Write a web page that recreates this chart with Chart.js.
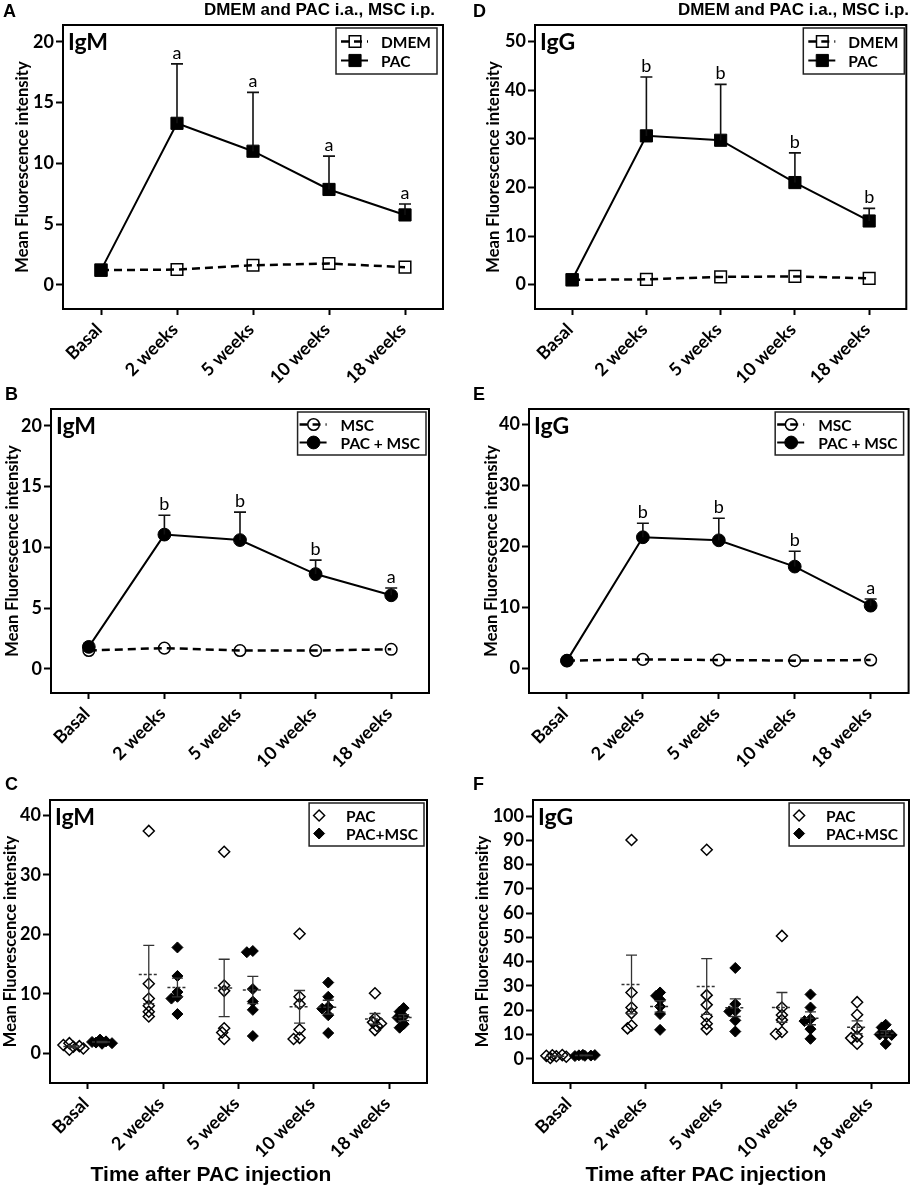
<!DOCTYPE html>
<html>
<head>
<meta charset="utf-8">
<script src="https://cdn.jsdelivr.net/npm/chart.js@4.4.1/dist/chart.umd.min.js"></script>
<style>
  body { margin: 0; background: #fff; }
  #page { position: relative; width: 916px; height: 1187px; overflow: hidden; background: #fff; }
  canvas { position: absolute; }
  .lbl { position: absolute; font-family: "Liberation Sans", Arial, sans-serif; font-weight: bold; color: #000; white-space: nowrap; line-height: 1; }
</style>
</head>
<body>
<div id="page">
  <canvas id="chartA" width="458" height="395" style="left:0;top:0"></canvas>
  <canvas id="chartD" width="458" height="395" style="left:458px;top:0"></canvas>
  <canvas id="chartB" width="458" height="400" style="left:0;top:380px"></canvas>
  <canvas id="chartE" width="458" height="400" style="left:458px;top:380px"></canvas>
  <canvas id="chartC" width="458" height="427" style="left:0;top:760px"></canvas>
  <canvas id="chartF" width="458" height="427" style="left:458px;top:760px"></canvas>

  <div class="lbl" style="left:3px;top:2px;font-size:18px">A</div>
  <div class="lbl" style="left:473px;top:2px;font-size:18px">D</div>
  <div class="lbl" style="left:5px;top:385px;font-size:18px">B</div>
  <div class="lbl" style="left:473px;top:385px;font-size:18px">E</div>
  <div class="lbl" style="left:5px;top:775px;font-size:18px">C</div>
  <div class="lbl" style="left:473px;top:775px;font-size:18px">F</div>
  <div class="lbl" style="right:481px;top:1px;font-size:17px">DMEM and PAC i.a., MSC i.p.</div>
  <div class="lbl" style="right:7px;top:1px;font-size:17px">DMEM and PAC i.a., MSC i.p.</div>
  <div class="lbl" style="left:211px;top:1163px;font-size:21px;transform:translateX(-50%)">Time after PAC injection</div>
  <div class="lbl" style="left:706px;top:1163px;font-size:21px;transform:translateX(-50%)">Time after PAC injection</div>
</div>
<script>
const timeLabels = ['Basal', '2 weeks', '5 weeks', '10 weeks', '18 weeks'];

// y tick values per panel
const ticksIgmLine = [0, 5, 10, 15, 20];
const ticksIggPac = [0, 10, 20, 30, 40, 50];
const ticksIggMsc = [0, 10, 20, 30, 40];
const ticksIgmDots = [0, 10, 20, 30, 40];
const ticksIggDots = [0, 10, 20, 30, 40, 50, 60, 70, 80, 90, 100];

// A - IgM, DMEM vs PAC (mean, upper SEM)
const igmDmem = [1.2, 1.25, 1.6, 1.75, 1.45];
const igmPac = [1.2, 13.3, 11.0, 7.85, 5.75];
const igmPacUpper = [null, 18.2, 15.85, 10.6, 6.65];
const igmPacLetters = ['', 'a', 'a', 'a', 'a'];

// D - IgG, DMEM vs PAC
const iggDmem = [1.0, 1.1, 1.6, 1.7, 1.3];
const iggPac = [1.0, 30.6, 29.7, 21.0, 13.1];
const iggPacUpper = [null, 42.7, 41.2, 27.1, 15.7];
const iggPacLetters = ['', 'b', 'b', 'b', 'b'];

// B - IgM, MSC vs PAC + MSC
const igmMsc = [1.5, 1.7, 1.5, 1.5, 1.6];
const igmPacMsc = [1.8, 11.05, 10.6, 7.8, 6.05];
const igmPacMscUpper = [null, 12.65, 12.9, 8.95, 6.65];
const igmPacMscLetters = ['', 'b', 'b', 'b', 'a'];

// E - IgG, MSC vs PAC + MSC
const iggMsc = [1.3, 1.5, 1.4, 1.3, 1.4];
const iggPacMsc = [1.3, 21.5, 21.0, 16.7, 10.3];
const iggPacMscUpper = [null, 23.8, 24.6, 19.2, 11.4];
const iggPacMscLetters = ['', 'b', 'b', 'b', 'a'];

// C - IgM individual animals
const igmPacPoints = [
  [1.1, 0.6, 1.7, 1.2, 1.4, 0.8],
  [37.4, 11.7, 9.2, 8.0, 7.0, 6.2],
  [33.9, 11.4, 10.5, 4.2, 3.5, 2.4],
  [20.1, 9.5, 8.3, 4.0, 2.6, 2.4],
  [10.1, 5.9, 5.2, 4.6, 3.9, 5.0]
];
const igmPacMscPoints = [
  [1.6, 1.8, 2.0, 2.3, 1.7, 1.9],
  [17.8, 13.0, 10.3, 9.5, 9.2, 6.6],
  [17.2, 17.0, 10.8, 8.7, 7.3, 2.9],
  [11.9, 9.5, 7.8, 7.5, 6.4, 3.4],
  [7.6, 7.0, 6.2, 4.9, 4.3, 6.0]
];

// F - IgG individual animals
const iggPacPoints = [
  [1.0, 0.3, 1.5, 0.8, 1.2, 1.4],
  [90.1, 27.3, 21.1, 18.8, 13.7, 12.5],
  [86.1, 26.2, 22.2, 17.4, 14.4, 12.2],
  [50.6, 21.1, 18.0, 16.0, 11.0, 10.2],
  [23.3, 18.1, 12.5, 9.2, 8.5, 6.2]
];
const iggPacMscPoints = [
  [1.2, 1.4, 1.3, 1.5, 1.1, 1.6],
  [27.3, 25.9, 24.3, 21.5, 18.4, 11.9],
  [37.4, 22.5, 19.8, 19.5, 15.8, 11.2],
  [26.5, 21.1, 16.3, 15.5, 12.2, 8.2],
  [14.0, 12.9, 10.0, 10.0, 9.8, 6.1]
];

const FONT = 'Lato, "Open Sans", sans-serif';
const PX_PER_CAT = 75.5;

// box around the plot area
const frame = {
  id: 'frame',
  beforeDatasetsDraw(chart) {
    const {ctx, chartArea: a} = chart;
    ctx.save();
    ctx.strokeStyle = '#000';
    ctx.lineWidth = 2;
    ctx.strokeRect(a.left, a.top, a.right - a.left, a.bottom - a.top);
    ctx.restore();
  }
};

// "IgM" / "IgG" tag in the top-left corner
const panelTag = {
  id: 'panelTag',
  afterDatasetsDraw(chart, args, opts) {
    const {ctx, chartArea: a} = chart;
    ctx.save();
    ctx.font = 'bold 23px ' + FONT;
    ctx.fillStyle = '#000';
    ctx.textBaseline = 'alphabetic';
    ctx.fillText(opts.text, a.left + 5, a.top + 25);
    ctx.restore();
  }
};

// upper SEM bars and significance letters for the line panels
const meanErrors = {
  id: 'meanErrors',
  afterDatasetsDraw(chart) {
    const ctx = chart.ctx, ys = chart.scales.y;
    chart.data.datasets.forEach((ds, i) => {
      if (!ds.errUpper) return;
      const meta = chart.getDatasetMeta(i);
      ctx.save();
      ctx.strokeStyle = '#111';
      ctx.lineWidth = 1.6;
      ctx.font = '18px ' + FONT;
      ctx.fillStyle = '#000';
      ctx.textAlign = 'center';
      ds.errUpper.forEach((u, j) => {
        if (u == null) return;
        const pt = meta.data[j];
        const yTop = ys.getPixelForValue(u);
        ctx.beginPath();
        ctx.moveTo(pt.x, pt.y);
        ctx.lineTo(pt.x, yTop);
        ctx.moveTo(pt.x - 6, yTop);
        ctx.lineTo(pt.x + 6, yTop);
        ctx.stroke();
        if (ds.letters && ds.letters[j]) ctx.fillText(ds.letters[j], pt.x, yTop - 5);
      });
      ctx.restore();
    });
  }
};

// mean (dashed) and SEM bars for the dot panels, computed from the points
const groupStats = {
  id: 'groupStats',
  afterDatasetsDraw(chart) {
    const ctx = chart.ctx, xs = chart.scales.x, ys = chart.scales.y;
    chart.data.datasets.forEach(ds => {
      if (!ds.groups) return;
      ds.groups.forEach((vals, j) => {
        const n = vals.length;
        const mean = vals.reduce((s, v) => s + v, 0) / n;
        const sd = Math.sqrt(vals.reduce((s, v) => s + (v - mean) * (v - mean), 0) / (n - 1));
        const sem = sd / Math.sqrt(n);
        const x = xs.getPixelForValue(j + ds.shift);
        const yM = ys.getPixelForValue(mean);
        const yU = ys.getPixelForValue(mean + sem);
        const yL = ys.getPixelForValue(mean - sem);
        ctx.save();
        ctx.strokeStyle = '#333';
        ctx.lineWidth = 1.5;
        ctx.setLineDash([3, 2]);
        ctx.beginPath();
        ctx.moveTo(x - 10, yM);
        ctx.lineTo(x + 10, yM);
        ctx.stroke();
        ctx.setLineDash([]);
        ctx.lineWidth = 1.3;
        ctx.beginPath();
        ctx.moveTo(x, yL); ctx.lineTo(x, yU);
        ctx.moveTo(x - 5.5, yU); ctx.lineTo(x + 5.5, yU);
        ctx.moveTo(x - 5.5, yL); ctx.lineTo(x + 5.5, yL);
        ctx.stroke();
        ctx.restore();
      });
    });
  }
};

function drawMarker(ctx, style, r, x, y, fill, bw) {
  ctx.beginPath();
  if (style === 'rect') {
    const h = r * Math.SQRT1_2;
    ctx.rect(x - h, y - h, 2 * h, 2 * h);
  } else if (style === 'circle') {
    ctx.arc(x, y, r, 0, Math.PI * 2);
  } else {
    ctx.moveTo(x - r, y); ctx.lineTo(x, y - r); ctx.lineTo(x + r, y); ctx.lineTo(x, y + r); ctx.closePath();
  }
  ctx.fillStyle = fill;
  ctx.fill();
  ctx.lineWidth = bw;
  ctx.strokeStyle = '#000';
  ctx.stroke();
}

// boxed legend inside the plot, top right
const boxLegend = {
  id: 'boxLegend',
  afterDatasetsDraw(chart, args, o) {
    const {ctx, chartArea: a} = chart;
    const items = chart.data.datasets;
    ctx.save();
    ctx.font = 'bold 15.5px ' + FONT;
    const textW = Math.max(...items.map(d => ctx.measureText(d.label).width));
    const w = o.textX + textW + 6;
    const h = items.length * o.rowH + 2 * o.padTop;
    const x0 = a.right - o.right - w, y0 = a.top + o.top;
    ctx.fillStyle = '#fff';
    ctx.fillRect(x0, y0, w, h);
    ctx.strokeStyle = '#222';
    ctx.lineWidth = 1.5;
    ctx.strokeRect(x0, y0, w, h);
    items.forEach((d, i) => {
      const cy = y0 + o.padTop + o.rowH * (i + 0.5);
      if (o.line) {
        ctx.setLineDash(d.borderDash || []);
        ctx.lineWidth = d.borderWidth;
        ctx.strokeStyle = '#000';
        ctx.beginPath();
        ctx.moveTo(x0 + o.lineFrom, cy);
        ctx.lineTo(x0 + o.lineTo, cy);
        ctx.stroke();
        ctx.setLineDash([]);
      }
      drawMarker(ctx, d.pointStyle, d.pointRadius, x0 + o.markerX, cy, d.pointBackgroundColor, d.pointBorderWidth);
      ctx.fillStyle = '#000';
      ctx.textBaseline = 'middle';
      ctx.fillText(d.label, x0 + o.textX, cy + 1);
    });
    ctx.restore();
  }
};

function baseOptions(c) {
  return {
    responsive: false,
    animation: false,
    layout: {padding: {left: 0, top: c.box.top, right: c.box.right, bottom: 0}},
    plugins: {legend: {display: false}, tooltip: {enabled: false}, boxLegend: c.legend, panelTag: {text: c.tag}},
    scales: {
      x: {
        ticks: {color: '#000', font: {family: FONT, weight: 'bold', size: 18}, minRotation: 45, maxRotation: 45,
                autoSkip: false, padding: 4, labelOffset: -2},
        grid: {drawOnChartArea: false, drawTicks: true, tickLength: 6, tickWidth: 2, color: '#000'},
        border: {display: false},
        afterFit: s => { s.height = c.box.xH; s.paddingLeft = 0; s.paddingRight = 0; }
      },
      y: {
        min: c.yMin,
        max: c.yMax,
        afterBuildTicks: s => { s.ticks = c.yTicks.map(v => ({value: v})); },
        ticks: {color: '#000', font: {family: FONT, weight: 'bold', size: 18}, padding: 2},
        grid: {drawOnChartArea: false, drawTicks: true, tickLength: 7, tickWidth: 2, color: '#000'},
        border: {display: false},
        title: {display: true, text: 'Mean Fluorescence intensity', color: '#000',
                font: {family: FONT, weight: 'bold', size: 16.6}, padding: {top: c.box.titlePad, bottom: 0}},
        afterFit: s => { s.width = c.box.left; s.paddingTop = 0; s.paddingBottom = 0; }
      }
    }
  };
}

function lineChart(id, c) {
  const isRect = c.style === 'rect';
  const opts = baseOptions(c);
  opts.scales.x.type = 'category';
  opts.scales.x.offset = true;
  new Chart(document.getElementById(id), {
    type: 'line',
    data: {
      labels: timeLabels,
      datasets: [
        {label: c.openLabel, data: c.openData, borderColor: '#000', borderWidth: 2.5, borderDash: [8, 5], tension: 0,
         pointStyle: c.style, pointRadius: isRect ? 8.2 : 5.8, pointBorderWidth: 1.5,
         pointBackgroundColor: 'rgba(255,255,255,0)', pointBorderColor: '#000', order: 1},
        {label: c.fillLabel, data: c.fillData, borderColor: '#000', borderWidth: 2, tension: 0,
         pointStyle: c.style, pointRadius: isRect ? 8.6 : 6.4, pointBorderWidth: 1,
         pointBackgroundColor: '#000', pointBorderColor: '#000', order: 0,
         errUpper: c.upper, letters: c.letters}
      ]
    },
    options: opts,
    plugins: [frame, meanErrors, boxLegend, panelTag]
  });
}

// spread points of one group sideways where they would overlap (at most 10 px each way)
function swarm(values, center, pxPerY) {
  const placed = [];
  return values.map(v => {
    const py = v * pxPerY;
    let best = 0, bestDist = -1;
    for (let k = 0; k <= 10; k++) {
      const cand = (k % 2 ? -1 : 1) * Math.ceil(k / 2) * 2;
      const dist = placed.length ? Math.min(...placed.map(p => Math.hypot(p.x - cand, p.y - py))) : Infinity;
      if (dist >= 4.5) { best = cand; break; }
      if (dist > bestDist) { bestDist = dist; best = cand; }
    }
    placed.push({x: best, y: py});
    return {x: center + best / PX_PER_CAT, y: v};
  });
}

function dotChart(id, c) {
  const pxPerY = 283 / (c.yMax - c.yMin);
  const mk = (label, groups, shift, filled) => ({
    label, groups, shift,
    data: groups.flatMap((vals, j) => swarm(vals, j + shift, pxPerY)),
    pointStyle: 'rectRot', pointRadius: 5.5, pointBorderWidth: filled ? 1 : 1.5,
    pointBackgroundColor: filled ? '#000' : 'rgba(255,255,255,0)', pointBorderColor: '#000', showLine: false
  });
  const opts = baseOptions(c);
  opts.scales.x.type = 'linear';
  opts.scales.x.min = -0.5;
  opts.scales.x.max = 4.5;
  opts.scales.x.afterBuildTicks = s => { s.ticks = timeLabels.map((t, i) => ({value: i})); };
  opts.scales.x.ticks.callback = v => timeLabels[v];
  new Chart(document.getElementById(id), {
    type: 'scatter',
    data: {datasets: [mk('PAC', c.pacGroups, -0.19, false), mk('PAC+MSC', c.mscGroups, 0.19, true)]},
    options: opts,
    plugins: [frame, groupStats, boxLegend, panelTag]
  });
}

const legRect = {right: 6, top: 3, rowH: 19, padTop: 4, markerX: 19, lineFrom: 5, lineTo: 32, textX: 45, line: true};
const legCirc = {right: 3, top: 3, rowH: 18, padTop: 3.5, markerX: 16, lineFrom: 2, lineTo: 29, textX: 43, line: true};
const legDots = {right: 3, top: 3, rowH: 18, padTop: 3.5, markerX: 10, textX: 37, line: false};

lineChart('chartA', {
  tag: 'IgM', style: 'rect', yMin: -2, yMax: 21.4, yTicks: ticksIgmLine,
  openLabel: 'DMEM', openData: igmDmem, fillLabel: 'PAC', fillData: igmPac,
  upper: igmPacUpper, letters: igmPacLetters,
  box: {left: 63, top: 25, right: 15, xH: 86, titlePad: 12.4},
  legend: legRect
});
lineChart('chartD', {
  tag: 'IgG', style: 'rect', yMin: -5, yMax: 53.4, yTicks: ticksIggPac,
  openLabel: 'DMEM', openData: iggDmem, fillLabel: 'PAC', fillData: iggPac,
  upper: iggPacUpper, letters: iggPacLetters,
  box: {left: 77, top: 25, right: 5, xH: 86, titlePad: 25.4},
  legend: Object.assign({}, legRect, {right: 2})
});
lineChart('chartB', {
  tag: 'IgM', style: 'circle', yMin: -2, yMax: 21.4, yTicks: ticksIgmLine,
  openLabel: 'MSC', openData: igmMsc, fillLabel: 'PAC + MSC', fillData: igmPacMsc,
  upper: igmPacMscUpper, letters: igmPacMscLetters,
  box: {left: 51, top: 29, right: 29, xH: 87, titlePad: 2.4},
  legend: legCirc
});
lineChart('chartE', {
  tag: 'IgG', style: 'circle', yMin: -4, yMax: 42.5, yTicks: ticksIggMsc,
  openLabel: 'MSC', openData: iggMsc, fillLabel: 'PAC + MSC', fillData: iggPacMsc,
  upper: iggPacMscUpper, letters: iggPacMscLetters,
  box: {left: 71, top: 29, right: 7, xH: 87, titlePad: 23.4},
  legend: Object.assign({}, legCirc, {right: 5})
});
dotChart('chartC', {
  tag: 'IgM', yMin: -5, yMax: 42.6, yTicks: ticksIgmDots,
  pacGroups: igmPacPoints, mscGroups: igmPacMscPoints,
  box: {left: 50, top: 40, right: 31, xH: 104, titlePad: 0.9},
  legend: legDots
});
dotChart('chartF', {
  tag: 'IgG', yMin: -10, yMax: 106.6, yTicks: ticksIggDots,
  pacGroups: iggPacPoints, mscGroups: iggPacMscPoints,
  box: {left: 75, top: 40, right: 5, xH: 104, titlePad: 14.4},
  legend: Object.assign({}, legDots, {right: 5})
});
</script>
</body>
</html>
